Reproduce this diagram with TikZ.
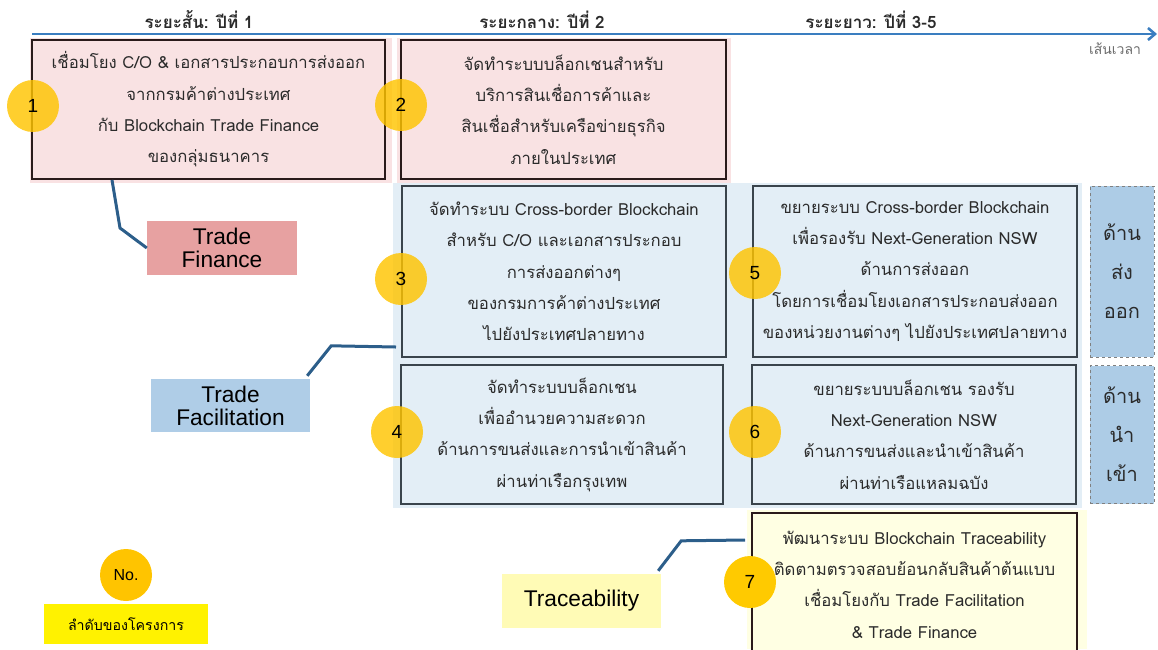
\documentclass[tikz,border=0pt]{standalone}
\usepackage{fontspec}
\setmainfont{Liberation Sans}
\newfontfamily\thaifont[Script=Thai]{Loma}
\usetikzlibrary{arrows.meta}
\definecolor{tline}{HTML}{3A7EC0}
\definecolor{connblue}{HTML}{2C5E8A}
\definecolor{pinkfill}{HTML}{F9E2E3}
\definecolor{bluefill}{HTML}{E3EEF6}
\definecolor{yelfill}{HTML}{FFFFE3}
\definecolor{boxline}{HTML}{3A444C}
\definecolor{pinkline}{HTML}{2A1A1A}
\definecolor{sideblue}{HTML}{ADCCE6}
\definecolor{tfpink}{HTML}{E7A1A1}
\definecolor{tfblue}{HTML}{AFCDE7}
\definecolor{tryellow}{HTML}{FFFBB6}
\definecolor{numyellow}{HTML}{FFC400}
\definecolor{textgray}{HTML}{2B2B2B}
\begin{document}
\begin{tikzpicture}[x=1pt,y=-1pt,
  projbox/.style={draw=boxline, line width=2pt, align=center, inner sep=0pt,
    font=\thaifont\fontsize{16.7}{31.3}\selectfont, text=textgray},
  num/.style={circle, fill=numyellow, fill opacity=0.82, text opacity=1,
    minimum size=52pt, inner sep=0pt, font=\fontsize{19}{22}\selectfont, text=black},
  conn/.style={draw=connblue, line width=3pt},
  tag/.style={inner sep=0pt, align=center, font=\fontsize{22.7}{23}\selectfont, text=black},
  sidebox/.style={draw=gray, dashed, line width=0.8pt, fill=sideblue, align=center,
    inner sep=0pt, minimum width=64pt, font=\thaifont\fontsize{20}{39}\selectfont, text=textgray},
  head/.style={font=\thaifont\bfseries\fontsize{17}{18}\selectfont, text=textgray, inner sep=0pt}
]
\useasboundingbox (0,0) rectangle (1158,649);
% backdrops
\path[fill=pinkfill] (30,38) rectangle (392,183);
\path[fill=pinkfill] (397,38) rectangle (731,183);
\path[fill=bluefill] (393,183) rectangle (1082,508);
\path[fill=yelfill] (747,510) rectangle (1087,649);
% timeline
\coordinate (tstart) at (32,34);
\coordinate (tend) at (1157,34);
\draw[draw=tline, line width=2.6pt, -{Straight Barb[length=7pt,width=12pt]}] (tstart) -- (tend);
\node[head] (h1) at (199,20) {ระยะสั้น: ปีที่ 1};
\node[head] (h2) at (542,20) {ระยะกลาง: ปีที่ 2};
\node[head] (h3) at (871,20) {ระยะยาว: ปีที่ 3-5};
\node[font=\thaifont\fontsize{14}{15}\selectfont, text=gray!85!black, inner sep=0pt] (tl) at (1115,49) {เส้นเวลา};
% project boxes
\node[projbox, draw=pinkline, fill=pinkfill, minimum width=353pt, minimum height=139pt] (b1) at (208.5,109.5)
  {เชื่อมโยง C/O \& เอกสารประกอบการส่งออก\\จากกรมค้าต่างประเทศ\\กับ Blockchain Trade Finance\\ของกลุ่มธนาคาร};
\node[projbox, draw=pinkline, fill=pinkfill, minimum width=325pt, minimum height=139pt] (b2) at (563.5,109.5)
  {จัดทำระบบบล็อกเชนสำหรับ\\บริการสินเชื่อการค้าและ\\สินเชื่อสำหรับเครือข่ายธุรกิจ\\ภายในประเทศ};
\node[projbox, fill=bluefill, minimum width=324pt, minimum height=171pt] (b3) at (564,271.5)
  {จัดทำระบบ Cross-border Blockchain\\สำหรับ C/O และเอกสารประกอบ\\การส่งออกต่างๆ\\ของกรมการค้าต่างประเทศ\\ไปยังประเทศปลายทาง};
\node[projbox, fill=bluefill, minimum width=322pt, minimum height=139pt] (b4) at (562,434.5)
  {จัดทำระบบบล็อกเชน\\เพื่ออำนวยความสะดวก\\ด้านการขนส่งและการนำเข้าสินค้า\\ผ่านท่าเรือกรุงเทพ};
\node[projbox, fill=bluefill, minimum width=324pt, minimum height=171pt] (b5) at (915,271.5)
  {ขยายระบบ Cross-border Blockchain\\เพื่อรองรับ Next-Generation NSW\\ด้านการส่งออก\\โดยการเชื่อมโยงเอกสารประกอบส่งออก\\ของหน่วยงานต่างๆ ไปยังประเทศปลายทาง};
\node[projbox, fill=bluefill, minimum width=324pt, minimum height=139pt] (b6) at (914,434.5)
  {ขยายระบบบล็อกเชน รองรับ\\Next-Generation NSW\\ด้านการขนส่งและนำเข้าสินค้า\\ผ่านท่าเรือแหลมฉบัง};
\node[projbox, draw=pinkline, fill=yelfill, minimum width=325pt, minimum height=143pt] (b7) at (914.5,584.5)
  {พัฒนาระบบ Blockchain Traceability\\ติดตามตรวจสอบย้อนกลับสินค้าต้นแบบ\\เชื่อมโยงกับ Trade Facilitation\\\& Trade Finance};
% side boxes
\node[sidebox, minimum height=171pt] (exp) at (1122,271.5) {ด้าน\\ส่ง\\ออก};
\node[sidebox, minimum height=138pt] (imp) at (1122,434.5) {ด้าน\\นำ\\เข้า};
% number circles
\node[num] (n1) at (33,106) {1};
\node[num] (n2) at (401,105) {2};
\node[num] (n3) at (401,279) {3};
\node[num] (n4) at (397,432) {4};
\node[num] (n5) at (755,273) {5};
\node[num] (n6) at (755,432) {6};
\node[num, fill=numyellow!90!yellow, fill opacity=1] (n7) at (750,582) {7};
% category tags
\node[tag, fill=tfpink, minimum width=150pt, minimum height=54pt] (tf) at (222,248) {Trade\\Finance};
\node[tag, fill=tfblue, minimum width=159pt, minimum height=53pt] (tfac) at (230.5,405.5) {Trade\\Facilitation};
\node[tag, fill=tryellow, minimum width=159pt, minimum height=54pt] (trace) at (581.5,601) {Traceability};
% connectors
\draw[conn] ([xshift=81pt]b1.south west) -- ++(8,48) -- (tf.west);
\draw[conn] ([xshift=-3pt,yshift=3pt]tfac.north east) -- ++(24,-30) -- ([shift={(-5pt,11pt)}]b3.south west);
\draw[conn] ([xshift=-3pt,yshift=3pt]trace.north east) -- ++(23,-30) -- ([shift={(-6pt,-28pt)}]b7.north west);
% legend
\node[circle, fill=numyellow, minimum size=52pt, inner sep=0pt, font=\fontsize{16}{18}\selectfont] (nolbl) at (126,575) {No.};
\node[fill=yellow, minimum width=164pt, minimum height=40pt, inner sep=0pt, font=\thaifont\fontsize{14.2}{15}\selectfont, text=black] (legend) at (126,624) {ลำดับของโครงการ};
\end{tikzpicture}
\end{document}
